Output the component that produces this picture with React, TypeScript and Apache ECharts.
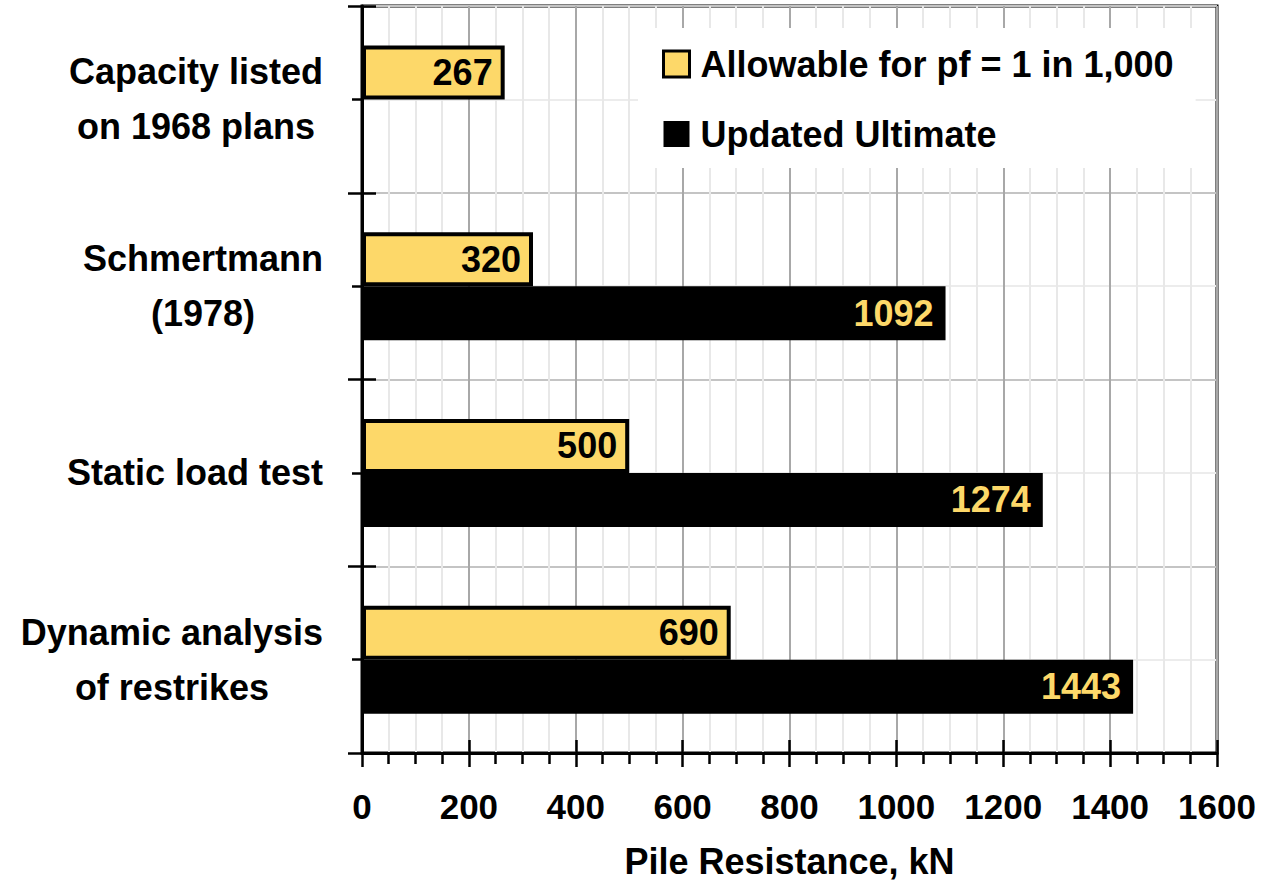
import React, { useEffect, useRef } from "react";
import * as echarts from "echarts";

const categories = [
  "Capacity listed\non 1968 plans",
  "Schmertmann\n(1978)",
  "Static load test",
  "Dynamic analysis\nof restrikes",
];
const allowable = [267, 320, 500, 690];
const ultimate: (number | null)[] = [null, 1092, 1274, 1443];
const seriesNames = ["Allowable for pf = 1 in 1,000", "Updated Ultimate"];
const xTicks = { min: 0, max: 1600, interval: 200 };

const FONT = "'Liberation Sans', Arial, sans-serif";
const YELLOW = "#FDD869";

export default function App() {
  const ref = useRef<HTMLDivElement>(null);
  useEffect(() => {
    document.body.style.margin = "0";
    const chart = echarts.init(ref.current!, null, { renderer: "svg" });
    const txt = { fontFamily: FONT, fontWeight: "bold" as const, fontSize: 35, color: "#000" };
    const big = { ...txt, fontSize: 36 };
    chart.setOption({
      animation: false,
      backgroundColor: "#fff",
      grid: {
        left: 362,
        right: 54,
        top: 6,
        bottom: 131,
        containLabel: false,
        outerBoundsMode: "none",
        show: true,
        borderColor: "#000",
        borderWidth: 3,
        backgroundColor: "transparent",
      },
      legend: {
        orient: "vertical",
        left: 638,
        top: 28,
        backgroundColor: "#fff",
        padding: [18, 22, 16, 24],
        itemWidth: 26,
        itemHeight: 26,
        itemGap: 34,
        textStyle: { ...big, padding: [0, 0, 0, 6] },
        data: [
          { name: seriesNames[0], icon: "rect", itemStyle: { color: YELLOW, borderColor: "#000", borderWidth: 3 } },
          { name: seriesNames[1], icon: "rect", itemStyle: { color: "#000" } },
        ],
      },
      xAxis: [
        {
          type: "value",
          position: "bottom",
          min: xTicks.min,
          max: xTicks.max,
          interval: xTicks.interval,
          axisLine: { show: true, lineStyle: { color: "#000", width: 3 } },
          axisTick: { show: true, inside: false, length: 14, lineStyle: { color: "#000", width: 2.5 } },
          minorTick: { show: true, splitNumber: 4, length: 11, lineStyle: { color: "#000", width: 2.5 } },
          splitLine: { show: true, lineStyle: { color: "#a8a8a8", width: 2 } },
          minorSplitLine: { show: true, lineStyle: { color: "#e8e8e8", width: 2 } },
          axisLabel: {
            ...txt,
            margin: 36,
            showMinLabel: true,
            showMaxLabel: true,
            hideOverlap: false,
            formatter: (v: number) => String(v),
          },
          name: "Pile Resistance, kN",
          nameLocation: "middle",
          nameGap: 90,
          nameTextStyle: { ...big },
        },
        {
          type: "value",
          position: "bottom",
          min: xTicks.min,
          max: xTicks.max,
          interval: xTicks.interval,
          axisLine: { show: false },
          axisTick: { show: true, inside: true, length: 13, lineStyle: { color: "#000", width: 2.5 } },
          axisLabel: { show: false },
          splitLine: { show: false },
        },
      ],
      yAxis: [
        {
          type: "category",
          position: "left",
          inverse: true,
          data: categories,
          axisLine: { show: true, lineStyle: { color: "#000", width: 3 } },
          axisTick: { show: true, inside: false, length: 14, lineStyle: { color: "#000", width: 2.5 } },
          splitLine: { show: false },
          axisLabel: {
            margin: 39,
            formatter: (v: string) => v.split("\n").map((l) => `{c|${l}}`).join("\n"),
            rich: { c: { ...big, align: "center", lineHeight: 55 } },
          },
        },
        {
          type: "value",
          position: "left",
          min: 0,
          max: 4,
          interval: 1,
          axisLine: { show: false },
          axisTick: { show: true, inside: true, length: 14, lineStyle: { color: "#000", width: 2.5 } },
          minorTick: { show: false, splitNumber: 2 },
          axisLabel: { show: false },
          splitLine: { show: true, lineStyle: { color: "#c4c4c4", width: 2 } },
          minorSplitLine: { show: true, lineStyle: { color: "#ececec", width: 2 } },
        },
        {
          type: "category",
          position: "left",
          inverse: true,
          data: categories,
          axisLine: { show: false },
          axisTick: { show: true, alignWithLabel: true, inside: false, length: 10, lineStyle: { color: "#000", width: 2.5 } },
          axisLabel: { show: false },
          splitLine: { show: false },
        },
      ],
      series: [
        {
          name: seriesNames[0],
          type: "bar",
          xAxisIndex: 0,
          yAxisIndex: 0,
          data: allowable,
          barWidth: 54,
          barGap: "0%",
          itemStyle: { color: YELLOW, borderColor: "#000", borderWidth: 4 },
          label: { show: true, position: "insideRight", distance: 12, ...big },
          z: 3,
        },
        {
          name: seriesNames[1],
          type: "bar",
          xAxisIndex: 0,
          yAxisIndex: 0,
          data: ultimate,
          barWidth: 54,
          barGap: "0%",
          itemStyle: { color: "#000" },
          label: { show: true, position: "insideRight", distance: 12, ...big, color: YELLOW },
          z: 2,
        },
      ],
    });
    return () => chart.dispose();
  }, []);
  return <div ref={ref} style={{ width: 1271, height: 884 }} />;
}
